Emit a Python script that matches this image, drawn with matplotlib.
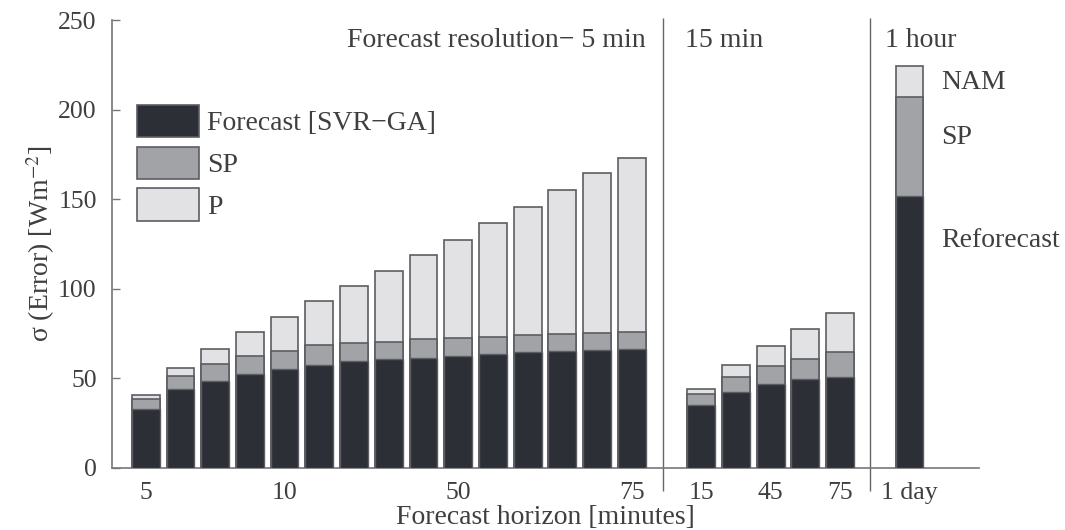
import matplotlib
matplotlib.use('Agg')
import matplotlib.pyplot as plt
from matplotlib.patches import Patch

plt.rcParams['font.family'] = ['Liberation Serif', 'DejaVu Serif']
plt.rcParams['mathtext.fontset'] = 'stix'

# 5 min resolution (15 horizons), 15 min resolution (5 horizons), 1 hour
fc_5 = [33.0, 44.3, 48.4, 52.4, 55.0, 57.5, 59.7, 60.7, 61.6, 62.7, 63.7, 64.6, 65.4, 65.6, 66.3]
sp_5 = [38.6, 51.2, 57.8, 62.7, 65.4, 68.4, 69.5, 70.6, 71.8, 72.5, 73.3, 74.0, 74.8, 75.5, 75.9]
p_5 = [40.5, 55.6, 66.3, 75.9, 84.4, 93.3, 101.7, 110.2, 118.9, 127.5, 136.8, 145.8, 155.2, 164.5, 173.3]

fc_15 = [35.3, 42.2, 46.7, 49.5, 51.0]
sp_15 = [41.5, 51.0, 56.9, 60.8, 64.5]
p_15 = [44.3, 57.5, 68.3, 77.6, 86.3]

fc_1h = [151.7]
sp_1h = [206.9]
p_1h = [224.2]

pos_5 = list(range(15))
pos_15 = [16, 17, 18, 19, 20]
pos_1h = [22]

tick_pos = [0, 4, 9, 14, 16, 18, 20, 22]
tick_labels = ['5', '10', '50', '75', '15', '45', '75', '1 day']

c_dark = '#2c2f36'
c_mid = '#a2a3a7'
c_light = '#e2e2e4'
c_edge = '#5c5d62'
c_text = '#3f3f3f'

fig = plt.figure(figsize=(10.65, 5.3), dpi=100)
ax = fig.add_axes([0.1052, 0.117, 0.814, 0.845])

for pos, fc, sp, p in [(pos_5, fc_5, sp_5, p_5), (pos_15, fc_15, sp_15, p_15), (pos_1h, fc_1h, sp_1h, p_1h)]:
    ax.bar(pos, p, width=0.8, color=c_light, edgecolor=c_edge, linewidth=1.2, zorder=2)
    ax.bar(pos, sp, width=0.8, color=c_mid, edgecolor=c_edge, linewidth=1.2, zorder=3)
    ax.bar(pos, fc, width=0.8, color=c_dark, edgecolor=c_edge, linewidth=1.0, zorder=4)

# separators between resolutions
ax.vlines([14.9, 20.85], -13, 251, color='#666666', linewidth=1.0, clip_on=False)

ax.set_xlim(-0.97, 24.0)
ax.set_ylim(0, 250)
ax.set_yticks([0, 50, 100, 150, 200, 250])
ax.set_xticks(tick_pos)
ax.set_xticklabels(tick_labels)

for s in ['top', 'right']:
    ax.spines[s].set_visible(False)
for s in ['left', 'bottom']:
    ax.spines[s].set_color('#777777')
    ax.spines[s].set_linewidth(1.2)

ax.tick_params(axis='y', direction='in', length=6, width=1.0, color='#777777',
               labelsize=18.5, labelcolor=c_text, pad=11)
ax.tick_params(axis='x', length=0, labelsize=18.5, labelcolor=c_text, pad=10)

ax.set_ylabel(r'σ (Error) [Wm$^{-2}$]', fontsize=20, color=c_text, labelpad=1)
ax.set_xlabel('Forecast horizon [minutes]', fontsize=20, color=c_text, labelpad=1)

ax.text(14.39, 238.8, 'Forecast resolution− 5 min', ha='right', va='center', fontsize=20, color=c_text)
ax.text(15.53, 238.8, '15 min', ha='left', va='center', fontsize=20, color=c_text)
ax.text(21.3, 238.8, '1 hour', ha='left', va='center', fontsize=20, color=c_text)
ax.text(22.9, 215.4, 'NAM', ha='left', va='center', fontsize=20, color=c_text)
ax.text(22.9, 184.7, 'SP', ha='left', va='center', fontsize=20, color=c_text)
ax.text(22.9, 127.2, 'Reforecast', ha='left', va='center', fontsize=20, color=c_text)

handles = [Patch(facecolor=c_dark, edgecolor=c_edge, linewidth=1.2, label='Forecast [SVR−GA]'),
           Patch(facecolor=c_mid, edgecolor=c_edge, linewidth=1.2, label='SP'),
           Patch(facecolor=c_light, edgecolor=c_edge, linewidth=1.2, label='P')]
leg = ax.legend(handles=handles, loc='upper left', bbox_to_anchor=(137 / 1065, 1 - 105 / 530),
                bbox_transform=fig.transFigure, frameon=False, fontsize=20, borderpad=0,
                borderaxespad=0, handlelength=2.23, handleheight=1.42, labelspacing=0.33,
                handletextpad=0.3)
for t in leg.get_texts():
    t.set_color(c_text)

fig.savefig('out.png', dpi=100)
